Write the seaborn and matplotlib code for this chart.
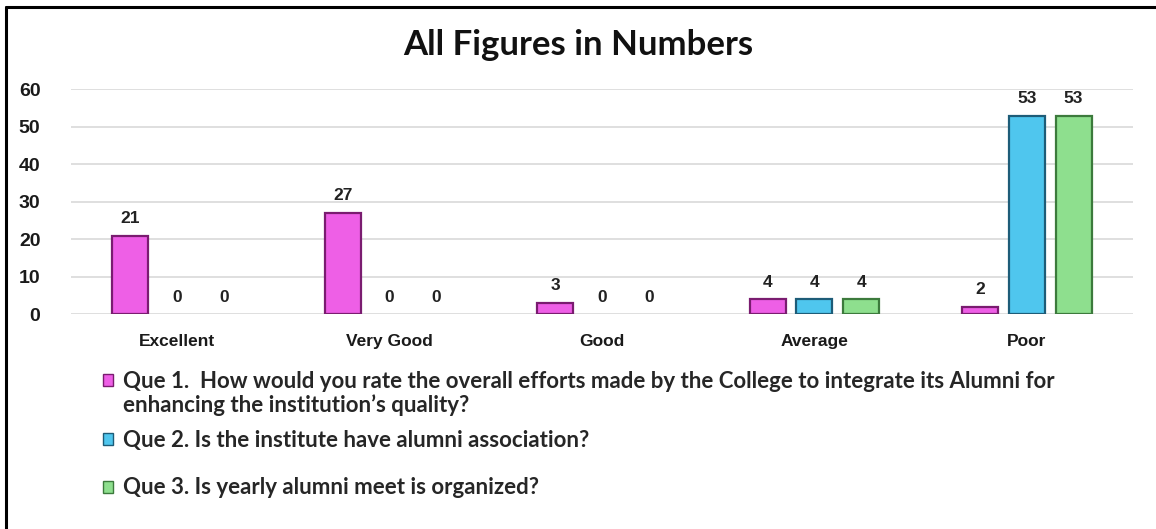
import matplotlib
matplotlib.use("Agg")
import matplotlib.pyplot as plt
from matplotlib.patches import Patch
from matplotlib.lines import Line2D
import seaborn as sns
import pandas as pd

categories = ["Excellent", "Very Good", "Good", "Average", "Poor"]
q1_values = [21, 27, 3, 4, 2]
q2_values = [0, 0, 0, 4, 53]
q3_values = [0, 0, 0, 4, 53]
series_labels = [
    "Que 1.  How would you rate the overall efforts made by the College to integrate its Alumni for",
    "Que 2. Is the institute have alumni association?",
    "Que 3. Is yearly alumni meet is organized?",
]
series1_cont = "enhancing the institution\u2019s quality?"
title = "All Figures in Numbers"
y_ticks = [0, 10, 20, 30, 40, 50, 60]

colors = ["#EE5FE6", "#4FC6EE", "#8EDF8E"]
edge_colors = ["#7A1C70", "#1D5C78", "#3C7A3C"]

rows = []
for name, vals in zip(["Q1", "Q2", "Q3"], [q1_values, q2_values, q3_values]):
    for c, v in zip(categories, vals):
        rows.append({"category": c, "series": name, "value": v})
df = pd.DataFrame(rows)

sns.set_theme(style="white")
plt.rcParams["font.family"] = ["Liberation Sans", "DejaVu Sans"]

W, H = 1156, 529
fig = plt.figure(figsize=(W / 100, H / 100), dpi=100)
ax = fig.add_axes([71 / W, 1 - 314.3 / H, (1133 - 71) / W, (314.3 - 89.3) / H])

sns.barplot(data=df, x="category", y="value", hue="series", order=categories,
            hue_order=["Q1", "Q2", "Q3"], palette=colors, width=0.66, gap=0.23,
            legend=False, ax=ax, saturation=1)

for cont, ec in zip(ax.containers, edge_colors):
    for p in cont.patches:
        p.set_edgecolor(ec)
        p.set_linewidth(1.6)
        if p.get_height() == 0:
            p.set_visible(False)
    ax.bar_label(cont, labels=[f"{int(round(p.get_height()))}" for p in cont.patches],
                 padding=7, fontsize=12.5, fontweight="bold", color="#222222")

ax.set_ylim(0, 60)
ax.set_xlim(-0.5, 4.5)
ax.set_yticks(y_ticks)
ax.set_xlabel("")
ax.set_ylabel("")
for s in ax.spines.values():
    s.set_visible(False)
ax.yaxis.grid(True, color="#D9D9D9", linewidth=1.2)
ax.set_axisbelow(True)
ax.tick_params(axis="y", length=0, pad=22, labelsize=14, labelcolor="#1a1a1a")
ax.tick_params(axis="x", length=0, pad=14, labelsize=12.5, labelcolor="#1a1a1a")
for lab in ax.get_yticklabels() + ax.get_xticklabels():
    lab.set_fontweight("bold")

fig.text(0.5, 1 - 45 / H, title, ha="center", va="center", fontsize=25,
         fontweight="bold", family=["Lato", "DejaVu Sans"], color="#111111")

legend_fs = 16
legend_y = [381, 440, 488]
for lab, col, ec, y in zip(series_labels, colors, edge_colors, legend_y):
    handle = Patch(facecolor=col, edgecolor=ec, linewidth=1)
    fig.legend([handle], [lab], loc="center left",
               bbox_to_anchor=(103 / W, 1 - y / H), bbox_transform=fig.transFigure,
               frameon=False, handlelength=0.45, handleheight=0.45, handletextpad=0.45,
               borderpad=0, borderaxespad=0,
               prop={"family": ["Lato", "DejaVu Sans"], "weight": "bold", "size": legend_fs})
fig.text(123 / W, 1 - 405 / H, series1_cont, ha="left", va="center",
         family=["Lato", "DejaVu Sans"], fontweight="bold", fontsize=legend_fs)

fig.add_artist(Line2D([6 / W, 6 / W], [0, 1 - 7 / H], transform=fig.transFigure,
                      color="black", linewidth=2.2))
fig.add_artist(Line2D([6 / W, 1], [1 - 7 / H, 1 - 7 / H], transform=fig.transFigure,
                      color="black", linewidth=2.2))

fig.savefig("out.png", dpi=100, facecolor="white")
